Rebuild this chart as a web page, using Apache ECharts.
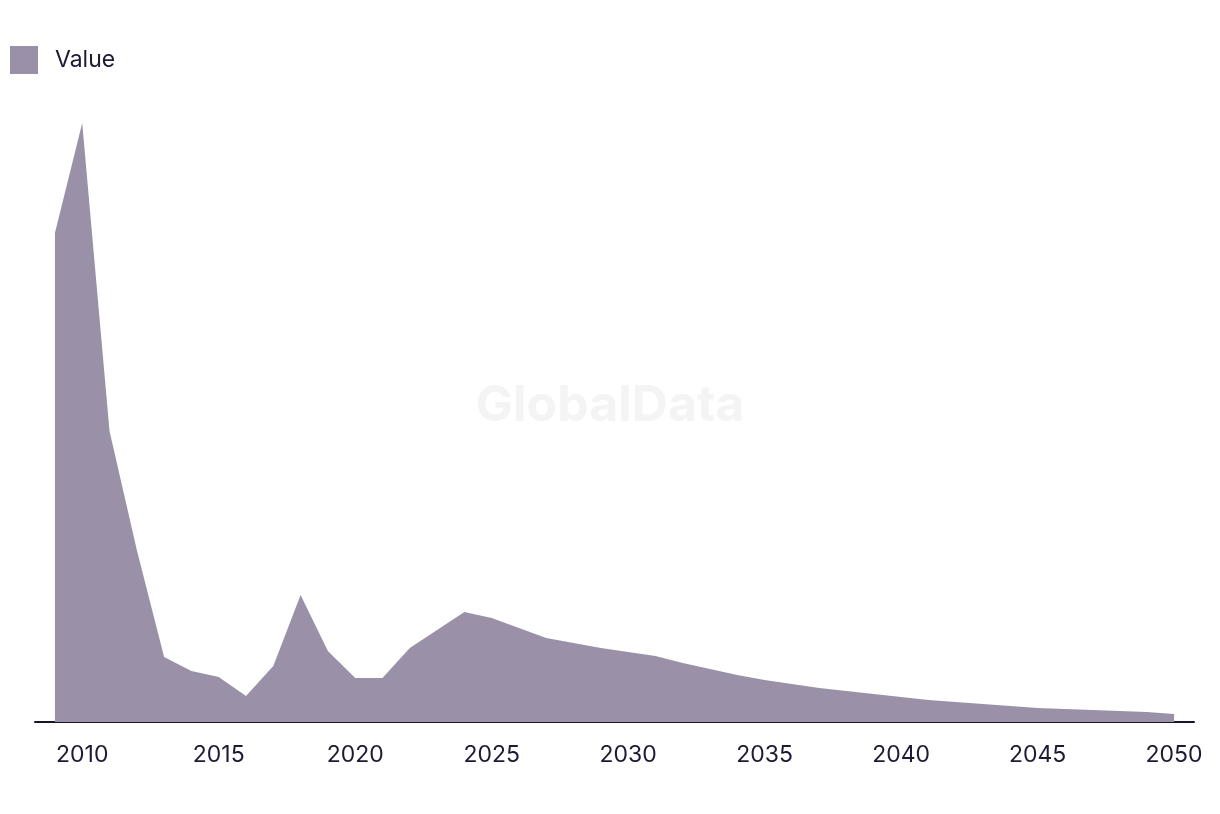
<!DOCTYPE html>
<html>
<head>
<meta charset="utf-8">
<script src="https://cdn.jsdelivr.net/npm/echarts@6/dist/echarts.min.js"></script>
<style>
html,body{margin:0;padding:0;background:#fff;}
#chart{width:1220px;height:814px;}
</style>
</head>
<body>
<div id="chart"></div>
<script>
const years = [];
for (let y = 2009; y <= 2050; y++) years.push(y);
const values = [489, 599, 291, 172, 65, 51, 45, 26, 56, 127, 71, 44, 44, 74, 92, 110, 104, 94, 84, 79, 74, 70, 66, 59, 53, 47, 42, 38, 34, 31, 28, 25, 22, 20, 18, 16, 14, 13, 12, 11, 10, 8];
const tickYears = [2010, 2015, 2020, 2025, 2030, 2035, 2040, 2045, 2050];
const seriesName = 'Value';

const chart = echarts.init(document.getElementById('chart'));
const fontFamily = 'Inter, "Liberation Sans", sans-serif';
chart.setOption({
  animation: false,
  backgroundColor: '#ffffff',
  graphic: [{
    type: 'text',
    left: 'center',
    top: 381,
    style: {
      text: 'GlobalData',
      font: 'bold 50px ' + fontFamily,
      fill: '#f4f4f4'
    },
    z: 0
  }],
  legend: {
    left: 5,
    top: 41,
    itemWidth: 28,
    itemHeight: 28,
    icon: 'rect',
    textStyle: { fontSize: 23, color: '#1c1b33', fontFamily: fontFamily, padding: [0, 0, 0, 12] },
    data: [seriesName]
  },
  grid: { left: 35, right: 26, top: 82, bottom: 92 },
  xAxis: {
    type: 'value',
    min: 2008.27,
    max: 2050.73,
    splitLine: { show: false },
    axisLine: { show: true, lineStyle: { color: '#16152b', width: 2 } },
    axisTick: { show: false },
    axisLabel: {
      customValues: tickYears,
      formatter: v => String(v),
      fontSize: 23,
      color: '#1c1b33',
      fontFamily: fontFamily,
      margin: 22
    }
  },
  yAxis: {
    type: 'value',
    min: 0,
    max: 640,
    show: false,
    splitLine: { show: false }
  },
  series: [{
    name: seriesName,
    type: 'line',
    data: years.map((y, i) => [y, values[i]]),
    symbol: 'none',
    lineStyle: { width: 0, color: '#9a91a9' },
    itemStyle: { color: '#9a91a9' },
    areaStyle: { color: '#9a91a9', opacity: 1 },
    z: 2
  }]
});
</script>
</body>
</html>
